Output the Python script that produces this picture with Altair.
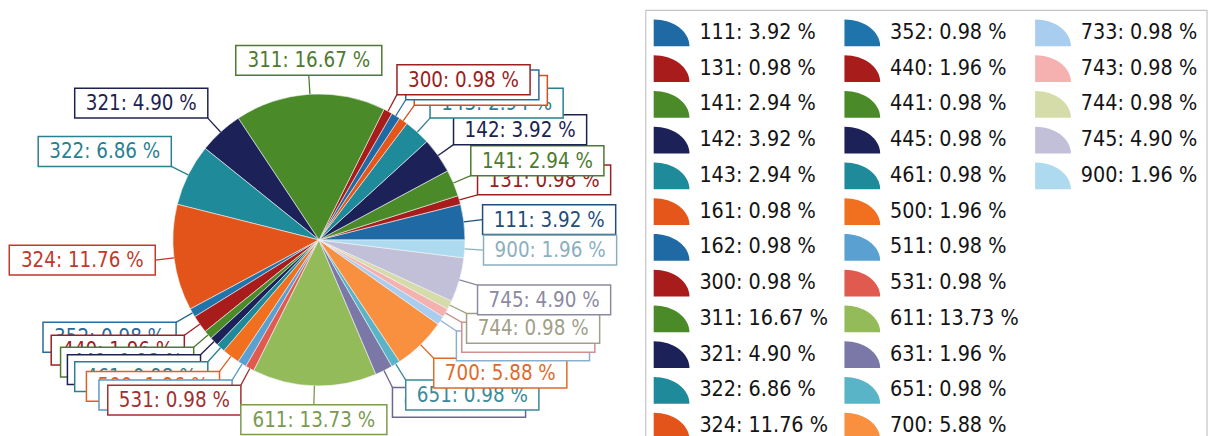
import math
import altair as alt
import pandas as pd

# ---------------- data ----------------
categories = ["111", "131", "141", "142", "143", "161", "162", "300", "311", "321",
              "322", "324", "352", "440", "441", "445", "461", "500", "511", "531",
              "611", "631", "651", "700", "733", "743", "744", "745", "900"]
percents = [3.92, 0.98, 2.94, 3.92, 2.94, 0.98, 0.98, 0.98, 16.67, 4.90,
            6.86, 11.76, 0.98, 1.96, 0.98, 0.98, 0.98, 1.96, 0.98, 0.98,
            13.73, 1.96, 0.98, 5.88, 0.98, 0.98, 0.98, 4.90, 1.96]

# ---------------- styles ----------------
slice_colors = ["#1f6aa5", "#a81c1c", "#4a8a28", "#1c2258", "#1f8a9a", "#e4561a",
                "#1f6aa5", "#a81c1c", "#4a8a28", "#1c2258", "#1f8a9a", "#e2541a",
                "#1f75ab", "#a81c1c", "#4a8a28", "#1c2258", "#1f8a9a", "#f07020",
                "#5aa0d0", "#e05a50", "#94bb5a", "#7b78a8", "#5ab4c8", "#f89040",
                "#a9cdef", "#f5b0b0", "#d6dbaa", "#c1c0d8", "#aedaf0"]
label_colors = ["#1f4e7a", "#9b2020", "#4d7a2e", "#1c2250", "#2a7f90", "#d05020",
                "#2a6a9a", "#9b2020", "#4d7a2e", "#1c2250", "#2a7f90", "#c0392b",
                "#2a6a9a", "#9b2020", "#4d7a2e", "#1c2250", "#2a7f90", "#e06020",
                "#5a9ac8", "#a03030", "#7a9a50", "#6a6890", "#3a8a9a", "#e06a2a",
                "#8ab0d0", "#d09090", "#a0a088", "#8a8aa0", "#8ab0c0"]
FONT = "DejaVu Sans Condensed, Liberation Sans, sans-serif"

# ---------------- layout (page pixel coordinates) ----------------
W, H = 1200, 428
X0, Y0 = 8, 8
CX, CY = 319, 232          # pie centre
R = 147                    # pie radius
RA = 166                   # radius where label boxes attach
BOX_H = 30
PAD = 9
xs = alt.Scale(domain=[X0, X0 + W], nice=False, zero=False)
ys = alt.Scale(domain=[Y0, Y0 + H], nice=False, zero=False, reverse=True)

total = sum(percents)
labels = [f"{c}: {p:.2f} %" for c, p in zip(categories, percents)]

rows = []
cum = 0.0
for i, (c, p) in enumerate(zip(categories, percents)):
    start, end = cum, cum + p
    cum = end
    a = 2 * math.pi * (start + end) / 2 / total
    ca, sa = math.cos(a), math.sin(a)
    px, py = CX + R * ca, CY - R * sa
    ax, ay = CX + RA * ca, CY - RA * sa
    tw = 116 + 13 * (len(labels[i]) - 11)
    bw = tw + 2 * PAD
    s = 0.5 - 0.5 * math.copysign(min(max((abs(ca) - 0.1) / 0.2, 0), 1), ca)
    t = 0.5 + 0.5 * math.copysign(min(max((abs(sa) - 0.13) / 0.12, 0), 1), sa)
    left = ax - s * bw
    top = ay - t * BOX_H
    rows.append(dict(idx=i, cat=c, pct=p, start=start, end=end, label=labels[i],
                     color=slice_colors[i], lcolor=label_colors[i],
                     px=px, py=py, ax=ax, ay=ay,
                     left=left, right=left + bw, top=top, bottom=top + BOX_H,
                     tx=left + bw / 2, ty=top + BOX_H / 2 + 1))
df = pd.DataFrame(rows)

# legend table
leg_rows = []
for i, c in enumerate(categories):
    col, row = i // 12, i % 12
    leg_rows.append(dict(label=labels[i], color=slice_colors[i],
                         sx=674 + 192 * col, tx=702 + 192 * col,
                         y=23.5 + 36 * row))
dleg = pd.DataFrame(leg_rows)
dbox = pd.DataFrame([dict(x0=648, x1=1213, y0=1, y1=434)])

# ---------------- chart ----------------
pie = alt.Chart(df).mark_arc(radius=R, stroke="#f4f4f4", strokeWidth=0.6).encode(
    theta=alt.Theta("start:Q", stack=None,
                    scale=alt.Scale(domain=[0, total],
                                    range=[2.5 * math.pi, 0.5 * math.pi])),
    theta2="end:Q",
    fill=alt.Fill("color:N", scale=None),
    x=alt.XDatum(CX, type="quantitative", scale=xs, axis=None),
    y=alt.YDatum(CY, type="quantitative", scale=ys, axis=None),
)

leaders = alt.Chart(df).mark_rule(strokeWidth=1.3).encode(
    x=alt.X("px:Q", scale=xs, axis=None),
    y=alt.Y("py:Q", scale=ys, axis=None),
    x2="ax:Q", y2="ay:Q",
    color=alt.Color("lcolor:N", scale=None),
)

label_layers = []
base = alt.Chart(df)
for i in range(len(categories)):
    b = base.transform_filter(alt.datum.idx == i)
    label_layers.append(
        b.mark_rect(fill="white", strokeWidth=1.5).encode(
            x=alt.X("left:Q", scale=xs, axis=None), x2="right:Q",
            y=alt.Y("top:Q", scale=ys, axis=None), y2="bottom:Q",
            stroke=alt.Stroke("lcolor:N", scale=None)))
    label_layers.append(
        b.mark_text(font=FONT, fontSize=20.5, align="center", baseline="middle").encode(
            x=alt.X("tx:Q", scale=xs, axis=None),
            y=alt.Y("ty:Q", scale=ys, axis=None),
            text="label:N",
            color=alt.Color("lcolor:N", scale=None)))

legbox = alt.Chart(dbox).mark_rect(fill="white", stroke="#c4c4c4", strokeWidth=1.2).encode(
    x=alt.X("x0:Q", scale=xs, axis=None), x2="x1:Q",
    y=alt.Y("y0:Q", scale=ys, axis=None), y2="y1:Q",
)
QUARTER = "M -1 0.75 L -1 -0.75 A 2 1.5 0 0 1 1 0.75 Z"
legsym = alt.Chart(dleg).mark_point(filled=True, shape=QUARTER, size=1296,
                                    opacity=1, strokeWidth=0).encode(
    x=alt.X("sx:Q", scale=xs, axis=None),
    y=alt.Y("y:Q", scale=ys, axis=None),
    fill=alt.Fill("color:N", scale=None),
)
legtxt = alt.Chart(dleg).mark_text(font=FONT, fontSize=21.5, align="left",
                                   baseline="middle", color="#141414").encode(
    x=alt.X("tx:Q", scale=xs, axis=None),
    y=alt.Y("y:Q", scale=ys, axis=None),
    text="label:N",
)

chart = alt.layer(pie, leaders, *label_layers, legbox, legsym, legtxt).properties(
    width=W, height=H, padding=0, background="white"
).configure_view(stroke=None)

chart.save("out.html", embed_options={"renderer": "svg", "actions": False})
